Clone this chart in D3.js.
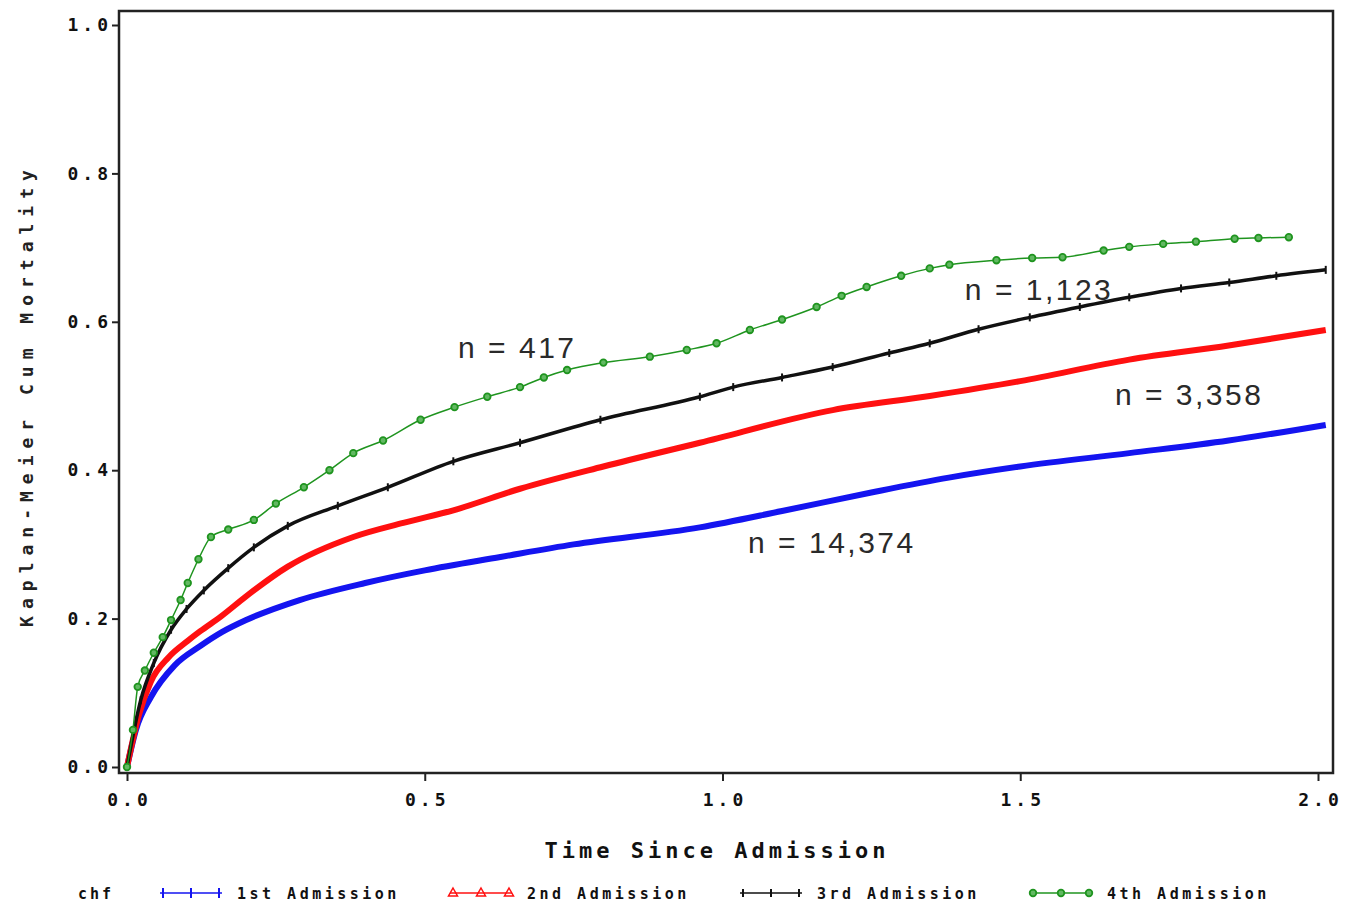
<!DOCTYPE html>
<html>
<head>
<meta charset="utf-8">
<script src="https://cdn.jsdelivr.net/npm/d3@7"></script>
<style>
  body { margin: 0; background: #fff; }
  .tick text { font-family: "DejaVu Sans Mono", monospace; font-weight: bold; }
</style>
</head>
<body>
<div id="chart"></div>
<script>
// curves: time (years) and cumulative mortality
const timeFirst = [0, 0.015, 0.04, 0.08, 0.123, 0.16, 0.2, 0.29, 0.4, 0.5, 0.627, 0.75, 0.962, 1.1, 1.25, 1.38, 1.5, 1.683, 1.85, 2.013];
const cumFirst  = [0, 0.05, 0.094, 0.137, 0.163, 0.182, 0.198, 0.225, 0.248, 0.265, 0.283, 0.3, 0.323, 0.345, 0.37, 0.39, 0.405, 0.423, 0.44, 0.461];

const timeSecond = [0, 0.02, 0.04, 0.07, 0.102, 0.123, 0.158, 0.2, 0.27, 0.38, 0.464, 0.548, 0.66, 0.8, 0.962, 1.185, 1.348, 1.5, 1.683, 1.85, 2.013];
const cumSecond  = [0, 0.07, 0.115, 0.148, 0.17, 0.183, 0.203, 0.23, 0.27, 0.31, 0.329, 0.346, 0.375, 0.405, 0.437, 0.481, 0.5, 0.52, 0.549, 0.568, 0.589];

const timeThird = [0, 0.023, 0.045, 0.074, 0.1, 0.129, 0.17, 0.213, 0.27, 0.354, 0.438, 0.548, 0.66, 0.795, 0.962, 1.018, 1.1, 1.185, 1.28, 1.348, 1.43, 1.516, 1.6, 1.683, 1.77, 1.851, 1.93, 2.013];
const cumThird  = [0, 0.09, 0.14, 0.185, 0.213, 0.238, 0.268, 0.296, 0.325, 0.352, 0.377, 0.412, 0.437, 0.468, 0.499, 0.512, 0.525, 0.539, 0.558, 0.571, 0.59, 0.606, 0.62, 0.633, 0.645, 0.653, 0.662, 0.67];

const timeFourth = [0, 0.01, 0.018, 0.03, 0.045, 0.06, 0.074, 0.09, 0.102, 0.12, 0.141, 0.17, 0.213, 0.25, 0.297, 0.34, 0.38, 0.43, 0.493, 0.55, 0.605, 0.66, 0.7, 0.739, 0.8, 0.878, 0.94, 0.99, 1.046, 1.1, 1.158, 1.2, 1.242, 1.3, 1.348, 1.381, 1.46, 1.52, 1.571, 1.64, 1.683, 1.74, 1.795, 1.86, 1.9, 1.951];
const cumFourth  = [0, 0.05, 0.108, 0.13, 0.154, 0.175, 0.198, 0.225, 0.248, 0.28, 0.31, 0.32, 0.333, 0.355, 0.377, 0.4, 0.423, 0.44, 0.468, 0.485, 0.499, 0.512, 0.525, 0.535, 0.545, 0.553, 0.562, 0.571, 0.589, 0.603, 0.62, 0.635, 0.647, 0.662, 0.672, 0.677, 0.683, 0.686, 0.687, 0.696, 0.701, 0.705, 0.708, 0.712, 0.713, 0.714];

const seriesNames = ["1st Admission", "2nd Admission", "3rd Admission", "4th Admission"];
const xTicks = [0, 0.5, 1.0, 1.5, 2.0];
const yTicks = [0, 0.2, 0.4, 0.6, 0.8, 1.0];

// n labels: text, time, value at the text's start/baseline
const nLabels = ["n = 417", "n = 1,123", "n = 3,358", "n = 14,374"];
const nLabelTime = [0.556, 1.407, 1.659, 1.043];
const nLabelValue = [0.551, 0.629, 0.488, 0.288];

const W = 1360, H = 908;
const x = d3.scaleLinear().domain([0, 2]).range([127, 1318]);
const y = d3.scaleLinear().domain([0, 1]).range([767, 25]);

const svg = d3.select("#chart").append("svg")
    .attr("width", W)
    .attr("height", H);

const series = [
  {name: seriesNames[0], t: timeFirst, v: cumFirst, color: "#1414f0", width: 6, marker: "plus"},
  {name: seriesNames[1], t: timeSecond, v: cumSecond, color: "#ff1010", width: 6, marker: "tri"},
  {name: seriesNames[2], t: timeThird, v: cumThird, color: "#111", width: 3.5, marker: "tick"},
  {name: seriesNames[3], t: timeFourth, v: cumFourth, color: "#1f941f", width: 1.5, marker: "circle"}
];

// frame
svg.append("rect")
    .attr("x", 119).attr("y", 11)
    .attr("width", 1333 - 119).attr("height", 773 - 11)
    .attr("fill", "none")
    .attr("stroke", "#222")
    .attr("stroke-width", 2.5);

// axes
const yAxis = svg.append("g")
    .attr("transform", "translate(119,0)")
    .call(d3.axisLeft(y).tickValues(yTicks).tickFormat(d3.format(".1f")).tickSize(7).tickPadding(4));
const xAxis = svg.append("g")
    .attr("transform", "translate(0,773)")
    .call(d3.axisBottom(x).tickValues(xTicks).tickFormat(d3.format(".1f")).tickSize(8).tickPadding(12));
[yAxis, xAxis].forEach(function(a) {
  a.select(".domain").remove();
  a.selectAll(".tick line").attr("stroke", "#222").attr("stroke-width", 2);
  a.selectAll(".tick text")
      .attr("fill", "#111")
      .style("font-size", "18px")
      .style("letter-spacing", "4px");
});
yAxis.selectAll(".tick text").attr("dx", "4px");
xAxis.selectAll(".tick text").attr("dx", "2px");

// axis titles
svg.append("text")
    .attr("x", 717).attr("y", 858)
    .attr("text-anchor", "middle")
    .style("font-family", "'DejaVu Sans Mono', monospace")
    .style("font-weight", "bold")
    .style("font-size", "22px")
    .style("letter-spacing", "4px")
    .attr("fill", "#111")
    .text("Time Since Admission");

svg.append("text")
    .attr("transform", "translate(33,395) rotate(-90)")
    .attr("text-anchor", "middle")
    .style("font-family", "'DejaVu Sans Mono', monospace")
    .style("font-weight", "bold")
    .style("font-size", "18px")
    .style("letter-spacing", "7px")
    .attr("fill", "#222")
    .text("Kaplan-Meier Cum Mortality");

// curves
const line = d3.line()
    .curve(d3.curveMonotoneX)
    .x(function(d) { return x(d[0]); })
    .y(function(d) { return y(d[1]); });

function drawMarker(g, kind, color, px, py) {
  if (kind === "plus") {
    g.append("path").attr("d", "M" + px + "," + (py - 5) + "v10")
        .attr("stroke", color).attr("stroke-width", 2);
  } else if (kind === "tri") {
    g.append("path").attr("d", "M" + px + "," + (py - 5) + "l4.5,8h-9z")
        .attr("fill", "none").attr("stroke", color).attr("stroke-width", 1.5);
  } else if (kind === "tick") {
    g.append("path").attr("d", "M" + px + "," + (py - 4) + "v8")
        .attr("stroke", color).attr("stroke-width", 2);
  } else {
    g.append("circle").attr("cx", px).attr("cy", py).attr("r", 3.3)
        .attr("fill", "#62b862").attr("stroke", color).attr("stroke-width", 1.8);
  }
}

series.forEach(function(s) {
  const pts = s.t.map(function(t, i) { return [t, s.v[i]]; });
  const g = svg.append("g");
  g.append("path")
      .datum(pts)
      .attr("d", line)
      .attr("fill", "none")
      .attr("stroke", s.color)
      .attr("stroke-width", s.width)
      .attr("stroke-linejoin", "round");
  if (s.marker === "tick" || s.marker === "circle") {
    pts.forEach(function(p) { drawMarker(g, s.marker, s.color, x(p[0]), y(p[1])); });
  }
});

// n labels
nLabels.forEach(function(txt, i) {
  svg.append("text")
      .attr("x", x(nLabelTime[i]))
      .attr("y", y(nLabelValue[i]))
      .style("font-family", "'Liberation Sans', Arial, sans-serif")
      .style("font-size", "30px")
      .style("letter-spacing", "2.5px")
      .attr("fill", "#2a2a2a")
      .text(txt);
});

// legend
const legY = 893;
svg.append("text")
    .attr("x", 78).attr("y", legY + 6)
    .style("font-family", "'DejaVu Sans Mono', monospace")
    .style("font-weight", "bold")
    .style("font-size", "15px")
    .style("letter-spacing", "3px")
    .attr("fill", "#111")
    .text("chf");

const legStart = [160, 450, 740, 1030];
series.forEach(function(s, i) {
  const g = svg.append("g");
  const x0 = legStart[i];
  g.append("line")
      .attr("x1", x0).attr("x2", x0 + 62)
      .attr("y1", legY).attr("y2", legY)
      .attr("stroke", s.color).attr("stroke-width", 1.5);
  [x0 + 3, x0 + 31, x0 + 59].forEach(function(px) {
    drawMarker(g, s.marker, s.color, px, legY);
  });
  g.append("text")
      .attr("x", x0 + 77).attr("y", legY + 6)
      .style("font-family", "'DejaVu Sans Mono', monospace")
      .style("font-weight", "bold")
      .style("font-size", "15px")
      .style("letter-spacing", "3.5px")
      .attr("fill", "#111")
      .text(s.name);
});
</script>
</body>
</html>
